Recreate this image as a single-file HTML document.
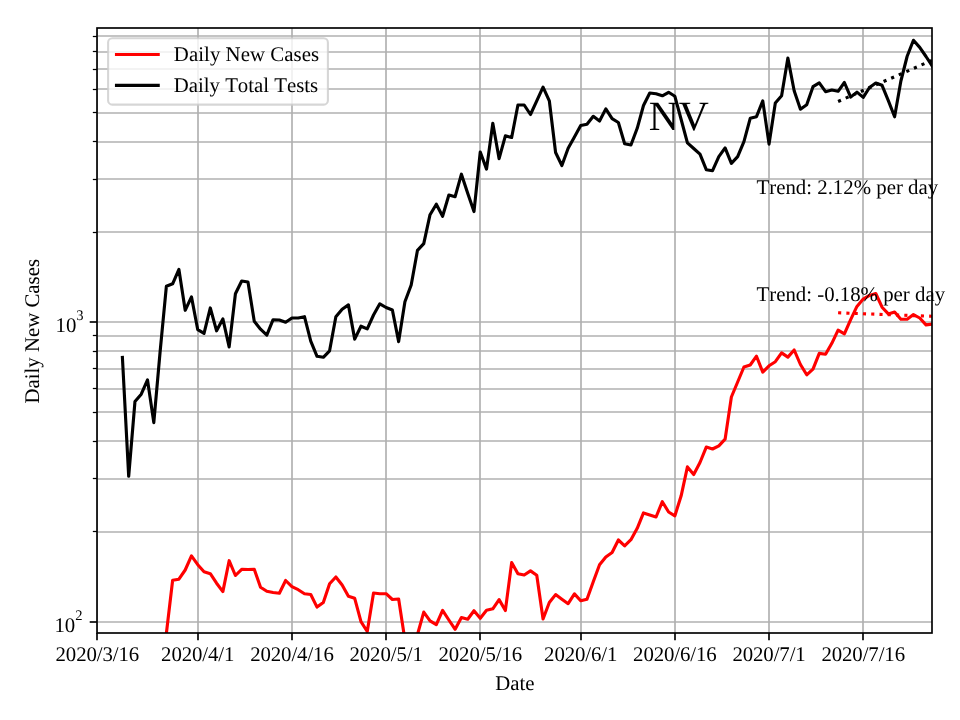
<!DOCTYPE html>
<html><head><meta charset="utf-8"><title>NV</title>
<style>html,body{margin:0;padding:0;background:#fff;}svg{display:block;will-change:transform;}text{font-family:"Liberation Serif",serif;fill:#000;font-kerning:none;text-rendering:geometricPrecision;}</style>
</head><body>
<svg width="960" height="720" viewBox="0 0 960 720">
<rect x="0" y="0" width="960" height="720" fill="#fff"/>
<defs><clipPath id="ax"><rect x="97.0" y="28.0" width="835.0" height="605.0"/></clipPath></defs>
<g stroke="#b0b0b0" stroke-width="1.667" fill="none" clip-path="url(#ax)">
<line x1="97.00" y1="28.0" x2="97.00" y2="633.0"/>
<line x1="198.00" y1="28.0" x2="198.00" y2="633.0"/>
<line x1="292.00" y1="28.0" x2="292.00" y2="633.0"/>
<line x1="386.00" y1="28.0" x2="386.00" y2="633.0"/>
<line x1="480.00" y1="28.0" x2="480.00" y2="633.0"/>
<line x1="581.00" y1="28.0" x2="581.00" y2="633.0"/>
<line x1="675.00" y1="28.0" x2="675.00" y2="633.0"/>
<line x1="769.00" y1="28.0" x2="769.00" y2="633.0"/>
<line x1="863.00" y1="28.0" x2="863.00" y2="633.0"/>
<line x1="97.0" y1="622.00" x2="932.0" y2="622.00"/>
<line x1="97.0" y1="322.00" x2="932.0" y2="322.00"/>
<line x1="97.0" y1="532.00" x2="932.0" y2="532.00"/>
<line x1="97.0" y1="479.00" x2="932.0" y2="479.00"/>
<line x1="97.0" y1="441.00" x2="932.0" y2="441.00"/>
<line x1="97.0" y1="412.00" x2="932.0" y2="412.00"/>
<line x1="97.0" y1="389.00" x2="932.0" y2="389.00"/>
<line x1="97.0" y1="369.00" x2="932.0" y2="369.00"/>
<line x1="97.0" y1="351.00" x2="932.0" y2="351.00"/>
<line x1="97.0" y1="336.00" x2="932.0" y2="336.00"/>
<line x1="97.0" y1="232.00" x2="932.0" y2="232.00"/>
<line x1="97.0" y1="179.00" x2="932.0" y2="179.00"/>
<line x1="97.0" y1="142.00" x2="932.0" y2="142.00"/>
<line x1="97.0" y1="113.00" x2="932.0" y2="113.00"/>
<line x1="97.0" y1="89.00" x2="932.0" y2="89.00"/>
<line x1="97.0" y1="69.00" x2="932.0" y2="69.00"/>
<line x1="97.0" y1="52.00" x2="932.0" y2="52.00"/>
<line x1="97.0" y1="36.00" x2="932.0" y2="36.00"/>
</g>
<g fill="none" stroke-width="3.125" stroke-linejoin="round" stroke-linecap="square" clip-path="url(#ax)">
<polyline stroke="#ff0000" points="166.36,633.50 172.64,580.30 178.91,579.20 185.19,570.00 191.47,555.90 197.75,564.70 204.03,571.70 210.30,573.70 216.58,583.20 222.86,591.60 229.14,560.70 235.42,575.50 241.69,569.30 247.97,569.50 254.25,569.20 260.53,587.20 266.81,591.30 273.08,592.50 279.36,593.30 285.64,580.50 291.92,586.70 298.20,589.70 304.47,593.80 310.75,594.50 317.03,607.10 323.31,602.50 329.59,583.70 335.86,577.00 342.14,585.00 348.42,596.30 354.70,598.30 360.98,621.70 367.25,631.50 373.53,593.00 379.81,593.70 386.09,593.70 392.37,599.50 398.64,599.00 404.92,640.00 411.20,636.00 417.48,634.50 423.76,612.10 430.03,620.80 436.31,624.60 442.59,610.45 448.87,620.00 455.15,629.30 461.42,617.50 467.70,619.20 473.98,610.70 480.26,618.30 486.54,610.30 492.81,608.80 499.09,599.60 505.37,610.50 511.65,562.60 517.93,573.70 524.20,575.00 530.48,570.90 536.76,575.30 543.04,619.00 549.32,602.50 555.59,594.60 561.87,599.20 568.15,603.70 574.43,593.90 580.71,600.80 586.98,599.20 593.26,581.70 599.54,564.80 605.82,557.00 612.10,552.50 618.37,540.00 624.65,545.80 630.93,539.70 637.21,528.30 643.49,512.90 649.76,515.00 656.04,517.00 662.32,501.70 668.60,512.00 674.88,515.80 681.15,495.80 687.43,466.90 693.71,474.50 699.99,462.50 706.27,447.10 712.54,449.00 718.82,445.80 725.10,439.20 731.38,397.00 737.66,382.00 743.93,367.00 750.21,365.00 756.49,356.20 762.77,372.10 769.05,365.80 775.32,361.70 781.60,352.90 787.88,357.10 794.16,350.00 800.44,364.50 806.71,374.80 812.99,369.20 819.27,353.40 825.55,354.20 831.83,343.30 838.10,330.20 844.38,333.80 850.66,319.60 856.94,306.40 863.22,299.10 869.49,295.40 875.77,293.50 882.05,307.20 888.33,313.90 894.61,312.00 900.88,319.20 907.16,319.20 913.44,314.60 919.72,318.00 926.00,324.90 932.27,324.10"/>
<polyline stroke="#000000" points="122.41,357.50 128.69,476.30 134.97,401.50 141.25,394.20 147.52,379.90 153.80,422.60 160.08,352.00 166.36,286.30 172.64,283.80 178.91,269.40 185.19,310.30 191.47,296.90 197.75,329.70 204.03,333.40 210.30,307.90 216.58,330.80 222.86,318.90 229.14,346.90 235.42,293.70 241.69,281.00 247.97,282.00 254.25,321.30 260.53,329.20 266.81,335.10 273.08,319.70 279.36,320.00 285.64,322.30 291.92,318.00 298.20,318.00 304.47,316.70 310.75,341.20 317.03,356.30 323.31,357.30 329.59,350.80 335.86,316.70 342.14,309.20 348.42,304.90 354.70,339.10 360.98,326.20 367.25,328.90 373.53,315.00 379.81,303.80 386.09,307.50 392.37,310.00 398.64,341.60 404.92,301.70 411.20,285.00 417.48,250.30 423.76,243.70 430.03,214.70 436.31,204.20 442.59,216.30 448.87,195.00 455.15,196.70 461.42,174.20 467.70,193.30 473.98,211.60 480.26,152.00 486.54,169.10 492.81,123.30 499.09,158.70 505.37,135.80 511.65,137.50 517.93,105.00 524.20,105.00 530.48,114.50 536.76,100.80 543.04,87.20 549.32,100.80 555.59,152.50 561.87,165.50 568.15,148.30 574.43,137.00 580.71,125.50 586.98,124.20 593.26,116.30 599.54,121.00 605.82,108.90 612.10,118.70 618.37,122.50 624.65,143.70 630.93,145.00 637.21,128.30 643.49,105.50 649.76,93.00 656.04,93.80 662.32,95.80 668.60,92.30 674.88,96.30 681.15,119.50 687.43,142.80 693.71,148.50 699.99,154.20 706.27,169.70 712.54,170.70 718.82,156.70 725.10,147.90 731.38,163.30 737.66,156.70 743.93,141.70 750.21,118.30 756.49,116.70 762.77,100.90 769.05,144.10 775.32,103.00 781.60,95.80 787.88,58.00 794.16,90.80 800.44,109.20 806.71,104.70 812.99,86.70 819.27,82.90 825.55,91.70 831.83,90.00 838.10,91.30 844.38,82.50 850.66,97.10 856.94,92.10 863.22,97.40 869.49,87.50 875.77,83.00 882.05,85.30 888.33,100.70 894.61,116.80 900.88,81.00 907.16,56.25 913.44,40.30 919.72,47.40 926.00,56.50 932.27,66.10"/>
<line x1="838.1" y1="312.8" x2="932.3" y2="316.3" stroke="#ff0000" stroke-linecap="butt" stroke-dasharray="3.125 5.156"/>
<line x1="838.1" y1="101.5" x2="932.3" y2="60.2" stroke="#000" stroke-linecap="butt" stroke-dasharray="3.125 5.156"/>
</g>
<rect x="97.0" y="28.0" width="835.0" height="605.0" fill="none" stroke="#000" stroke-width="1.667" stroke-linejoin="miter"/>
<g stroke="#000" stroke-width="1.667">
<line x1="97.00" y1="633.0" x2="97.00" y2="640.29"/>
<line x1="198.00" y1="633.0" x2="198.00" y2="640.29"/>
<line x1="292.00" y1="633.0" x2="292.00" y2="640.29"/>
<line x1="386.00" y1="633.0" x2="386.00" y2="640.29"/>
<line x1="480.00" y1="633.0" x2="480.00" y2="640.29"/>
<line x1="581.00" y1="633.0" x2="581.00" y2="640.29"/>
<line x1="675.00" y1="633.0" x2="675.00" y2="640.29"/>
<line x1="769.00" y1="633.0" x2="769.00" y2="640.29"/>
<line x1="863.00" y1="633.0" x2="863.00" y2="640.29"/>
<line x1="97.0" y1="622.00" x2="89.71" y2="622.00"/>
<line x1="97.0" y1="322.00" x2="89.71" y2="322.00"/>
</g>
<g stroke="#000" stroke-width="1.25">
<line x1="97.0" y1="531.50" x2="92.83" y2="531.50"/>
<line x1="97.0" y1="478.50" x2="92.83" y2="478.50"/>
<line x1="97.0" y1="441.50" x2="92.83" y2="441.50"/>
<line x1="97.0" y1="412.50" x2="92.83" y2="412.50"/>
<line x1="97.0" y1="388.50" x2="92.83" y2="388.50"/>
<line x1="97.0" y1="368.50" x2="92.83" y2="368.50"/>
<line x1="97.0" y1="351.50" x2="92.83" y2="351.50"/>
<line x1="97.0" y1="335.50" x2="92.83" y2="335.50"/>
<line x1="97.0" y1="232.50" x2="92.83" y2="232.50"/>
<line x1="97.0" y1="179.50" x2="92.83" y2="179.50"/>
<line x1="97.0" y1="141.50" x2="92.83" y2="141.50"/>
<line x1="97.0" y1="112.50" x2="92.83" y2="112.50"/>
<line x1="97.0" y1="89.50" x2="92.83" y2="89.50"/>
<line x1="97.0" y1="69.50" x2="92.83" y2="69.50"/>
<line x1="97.0" y1="51.50" x2="92.83" y2="51.50"/>
<line x1="97.0" y1="36.50" x2="92.83" y2="36.50"/>
</g>
<g font-size="20.83" text-anchor="middle">
<text x="97.30" y="661.4" letter-spacing="-0.1">2020/3/16</text>
<text x="197.75" y="661.4" letter-spacing="-0.1">2020/4/1</text>
<text x="291.92" y="661.4" letter-spacing="-0.1">2020/4/16</text>
<text x="386.09" y="661.4" letter-spacing="-0.1">2020/5/1</text>
<text x="480.26" y="661.4" letter-spacing="-0.1">2020/5/16</text>
<text x="580.71" y="661.4" letter-spacing="-0.1">2020/6/1</text>
<text x="674.88" y="661.4" letter-spacing="-0.1">2020/6/16</text>
<text x="769.05" y="661.4" letter-spacing="-0.1">2020/7/1</text>
<text x="863.22" y="661.4" letter-spacing="-0.1">2020/7/16</text>
<text x="514.9" y="689.6">Date</text>
</g>
<text x="54.4" y="631.50" font-size="20.83">10<tspan font-size="14.58" dy="-11.9">2</tspan></text>
<text x="55.5" y="331.50" font-size="20.83">10<tspan font-size="14.58" dy="-11.9">3</tspan></text>
<text transform="translate(39,331.3) rotate(-90)" font-size="20.83" text-anchor="middle">Daily New Cases</text>
<text x="648.7" y="130" font-size="41.67">NV</text>
<text x="756.5" y="194" font-size="20.83">Trend: 2.12% per day</text>
<text x="756.5" y="301" font-size="20.83">Trend: -0.18% per day</text>
<rect x="108.1" y="38.3" width="219.80" height="66.30" rx="4.17" ry="4.17" fill="#fff" fill-opacity="0.8" stroke="#ccc" stroke-opacity="0.8" stroke-width="2.08"/>
<g stroke-width="3.125" stroke-linecap="square">
<line x1="116.5" y1="54.5" x2="158.2" y2="54.5" stroke="#ff0000"/>
<line x1="116.5" y1="85.4" x2="158.2" y2="85.4" stroke="#000"/>
</g>
<text x="173.8" y="60.8" font-size="20.83" letter-spacing="0.055">Daily New Cases</text>
<text x="173.8" y="91.7" font-size="20.83" letter-spacing="-0.02">Daily Total Tests</text>
</svg>
</body></html>
